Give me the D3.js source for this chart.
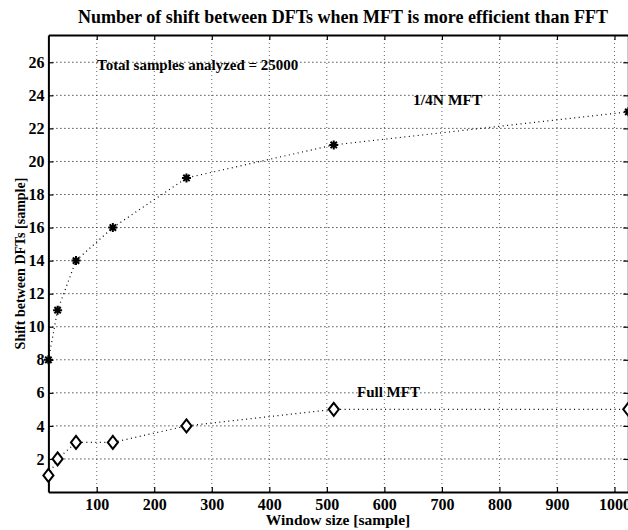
<!DOCTYPE html>
<html>
<head>
<meta charset="utf-8">
<script src="https://cdn.jsdelivr.net/npm/d3@7"></script>
<style>
  html, body { margin: 0; padding: 0; background: #fff; }
  svg text { font-family: "Liberation Serif", "Times New Roman", serif; font-weight: bold; fill: #000; }
</style>
</head>
<body>
<svg id="chart" width="628" height="530"></svg>
<script>
// Window sizes (samples) and the shift between DFTs at which MFT beats FFT
const windowSizes = [16, 32, 64, 128, 256, 512, 1024];
const quarterMFT = [8, 11, 14, 16, 19, 21, 23];
const fullMFT = [1, 2, 3, 3, 4, 5, 5];

const xTicks = [100, 200, 300, 400, 500, 600, 700, 800, 900, 1000];
const yTicks = [2, 4, 6, 8, 10, 12, 14, 16, 18, 20, 22, 24, 26];

const titleText = "Number of shift between DFTs when MFT is more efficient than FFT";
const xLabel = "Window size [sample]";
const yLabel = "Shift between DFTs [sample]";
const noteText = "Total samples analyzed = 25000";
const seriesLabels = ["1/4N MFT", "Full MFT"];

const svg = d3.select("#chart");
const box = { left: 48.4, right: 628.3, top: 35, bottom: 492 };

const x = d3.scaleLinear().domain([16, 1024]).range([box.left, box.right]);
const y = d3.scaleLinear().domain([0, 27.65]).range([box.bottom, box.top]);

// grid lines (dotted)
const grid = svg.append("g");
grid.selectAll("line.gx").data(xTicks).join("line")
  .attr("x1", d => x(d)).attr("x2", d => x(d))
  .attr("y1", box.top).attr("y2", box.bottom)
  .attr("stroke", "#666").attr("stroke-width", 1).attr("stroke-dasharray", "1,3");
grid.selectAll("line.gy").data(yTicks).join("line")
  .attr("x1", box.left).attr("x2", box.right)
  .attr("y1", d => y(d)).attr("y2", d => y(d))
  .attr("stroke", "#000").attr("stroke-width", 1).attr("stroke-dasharray", "1,3");

// axes: inward ticks on all four sides
const tickLen = 5;
const axisStyle = g => {
  g.select(".domain").attr("stroke", "#000").attr("stroke-width", 2);
  g.selectAll(".tick line").attr("stroke", "#000").attr("stroke-width", 1.2);
  g.selectAll(".tick text").attr("font-family", null).style("font-size", "16px");
};
const fmt = d3.format("d");

svg.append("g").attr("transform", `translate(0,${box.bottom})`)
  .call(d3.axisBottom(x).tickValues(xTicks).tickFormat(fmt).tickSizeInner(-tickLen).tickSizeOuter(0).tickPadding(7))
  .call(axisStyle);
svg.append("g").attr("transform", `translate(0,${box.top})`)
  .call(d3.axisTop(x).tickValues(xTicks).tickSizeInner(-tickLen).tickSizeOuter(0).tickFormat(""))
  .call(axisStyle);
svg.append("g").attr("transform", `translate(${box.left},0)`)
  .call(d3.axisLeft(y).tickValues(yTicks).tickFormat(fmt).tickSizeInner(-tickLen).tickSizeOuter(0).tickPadding(4))
  .call(axisStyle);
svg.append("g").attr("transform", `translate(${box.right},0)`)
  .call(d3.axisRight(y).tickValues(yTicks).tickSizeInner(-tickLen).tickSizeOuter(0).tickFormat(""))
  .call(axisStyle);

// dotted connecting lines
const line = d3.line().x(d => x(d[0])).y(d => y(d[1]));
[quarterMFT, fullMFT].forEach(vals => {
  svg.append("path")
    .datum(windowSizes.map((w, i) => [w, vals[i]]))
    .attr("d", line)
    .attr("fill", "none").attr("stroke", "#000").attr("stroke-width", 1.2)
    .attr("stroke-dasharray", "1,3.5");
});

// eight-armed star marker
const starSymbol = {
  draw(ctx, size) {
    const r = Math.sqrt(size) / 2, d = r * Math.SQRT1_2;
    ctx.moveTo(-r, 0); ctx.lineTo(r, 0);
    ctx.moveTo(0, -r); ctx.lineTo(0, r);
    ctx.moveTo(-d, -d); ctx.lineTo(d, d);
    ctx.moveTo(-d, d); ctx.lineTo(d, -d);
  }
};
// tall open diamond marker
const diamondSymbol = {
  draw(ctx, size) {
    const h = Math.sqrt(size) / 2, w = h * 0.78;
    ctx.moveTo(0, -h); ctx.lineTo(w, 0); ctx.lineTo(0, h); ctx.lineTo(-w, 0); ctx.closePath();
  }
};

svg.append("g").selectAll("path").data(windowSizes.map((w, i) => [w, quarterMFT[i]])).join("path")
  .attr("transform", d => `translate(${x(d[0])},${y(d[1])})`)
  .attr("d", d3.symbol(starSymbol, 81))
  .attr("fill", "none").attr("stroke", "#000").attr("stroke-width", 2);

svg.append("g").selectAll("path").data(windowSizes.map((w, i) => [w, fullMFT[i]])).join("path")
  .attr("transform", d => `translate(${x(d[0])},${y(d[1])})`)
  .attr("d", d3.symbol(diamondSymbol, 169))
  .attr("fill", "#fff").attr("stroke", "#000").attr("stroke-width", 2);

// texts
svg.append("text").attr("x", 343).attr("y", 23).attr("text-anchor", "middle")
  .style("font-size", "18px").text(titleText);
svg.append("text").attr("x", 338).attr("y", 525).attr("text-anchor", "middle")
  .style("font-size", "15.5px").text(xLabel);
svg.append("text").attr("transform", `translate(25,${(box.top + box.bottom) / 2}) rotate(-90)`)
  .attr("text-anchor", "middle").style("font-size", "14px").text(yLabel);
svg.append("text").attr("x", 97).attr("y", 70).style("font-size", "15px").text(noteText);
svg.append("text").attr("x", 413).attr("y", 105).style("font-size", "15.5px").text(seriesLabels[0]);
svg.append("text").attr("x", 357).attr("y", 397).style("font-size", "15px").text(seriesLabels[1]);
</script>
</body>
</html>
